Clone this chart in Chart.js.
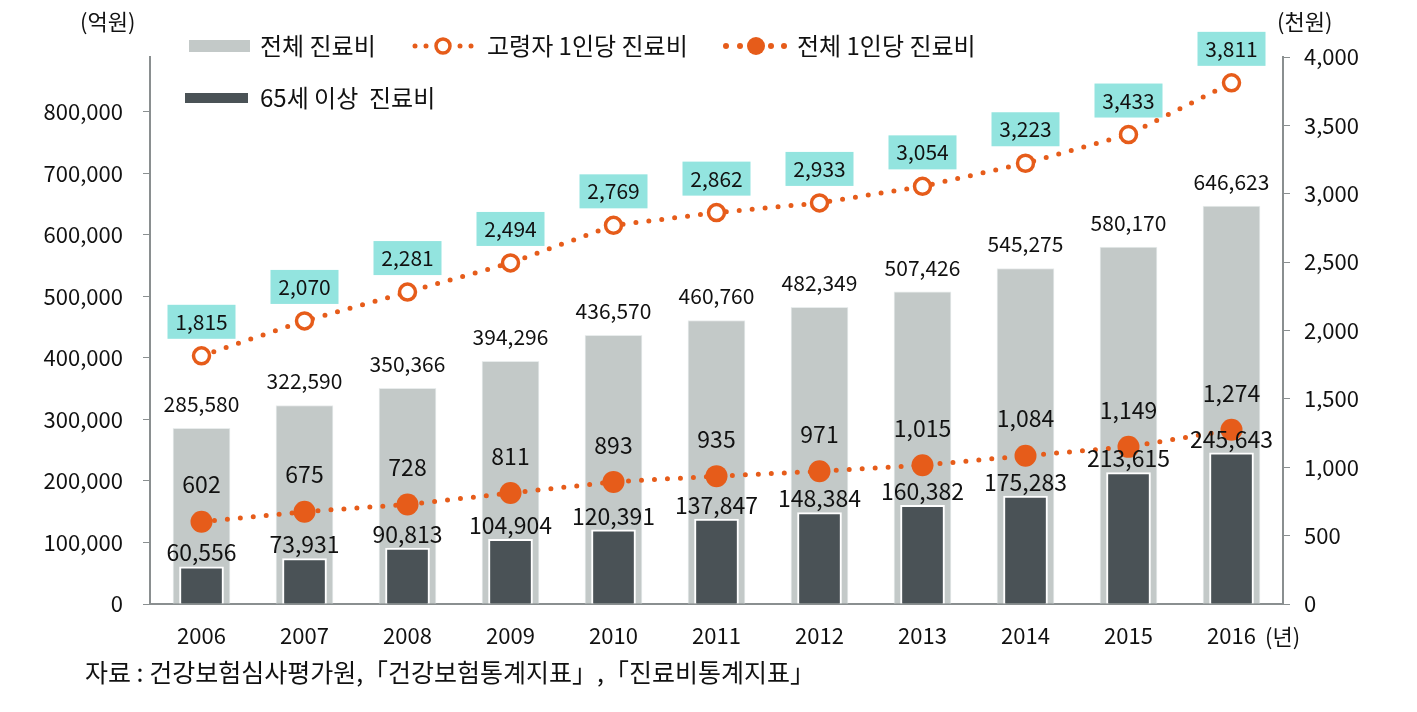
<!DOCTYPE html>
<html>
<head>
<meta charset="utf-8">
<script src="https://cdn.jsdelivr.net/npm/chart.js@4"></script>
<style>
  html, body { margin: 0; padding: 0; background: #fff; }
  canvas { display: block; }
</style>
</head>
<body>
<canvas id="costChart" width="1417" height="712"></canvas>
<script>
const years = ['2006', '2007', '2008', '2009', '2010', '2011', '2012', '2013', '2014', '2015', '2016'];
const totalCost = [285580, 322590, 350366, 394296, 436570, 460760, 482349, 507426, 545275, 580170, 646623];
const elderlyCost = [60556, 73931, 90813, 104904, 120391, 137847, 148384, 160382, 175283, 213615, 245643];
const elderlyPerCapita = [1815, 2070, 2281, 2494, 2769, 2862, 2933, 3054, 3223, 3433, 3811];
const totalPerCapita = [602, 675, 728, 811, 893, 935, 971, 1015, 1084, 1149, 1274];
const leftTicks = [0, 100000, 200000, 300000, 400000, 500000, 600000, 700000, 800000];
const rightTicks = [0, 500, 1000, 1500, 2000, 2500, 3000, 3500, 4000];

const FONT = '"Noto Sans CJK KR", "Noto Sans", sans-serif';
const ORANGE = '#e65c1a';
const fmt = v => v.toLocaleString('en-US');

// data labels, legend and captions
const extras = {
    id: 'extras',
    afterDatasetsDraw(chart) {
        const c = chart.ctx;
        c.save();
        c.textAlign = 'center';
        c.textBaseline = 'middle';
        c.fillStyle = '#111';

        chart.getDatasetMeta(0).data.forEach((bar, i) => {
            c.font = '21px ' + FONT;
            c.fillText(fmt(totalCost[i]), bar.x, bar.y - 24);
        });
        chart.getDatasetMeta(1).data.forEach((bar, i) => {
            c.font = '23px ' + FONT;
            c.fillText(fmt(elderlyCost[i]), bar.x, bar.y - 14);
        });
        chart.getDatasetMeta(3).data.forEach((pt, i) => {
            c.font = '23px ' + FONT;
            c.fillText(fmt(totalPerCapita[i]), pt.x, pt.y - 37);
        });
        chart.getDatasetMeta(2).data.forEach((pt, i) => {
            c.fillStyle = '#93e4df';
            c.fillRect(pt.x - 34, pt.y - 51, 68, 34);
            c.fillStyle = '#111';
            c.font = '21px ' + FONT;
            c.fillText(fmt(elderlyPerCapita[i]), pt.x, pt.y - 34);
        });

        // legend
        c.textAlign = 'left';
        c.font = '24px ' + FONT;
        c.fillStyle = '#c3c9c8';
        c.fillRect(189, 40, 61, 12);
        c.fillStyle = '#4a5256';
        c.fillRect(185, 93, 63, 10);
        c.fillStyle = '#111';
        c.fillText('전체 진료비', 260, 46);
        c.fillText('65세 이상  진료비', 260, 98);
        c.fillText('고령자 1인당 진료비', 487, 46);
        c.fillText('전체 1인당 진료비', 797, 46);

        c.fillStyle = ORANGE;
        [415, 426, 460, 471].forEach(x => { c.beginPath(); c.arc(x, 46, 2.5, 0, Math.PI * 2); c.fill(); });
        c.beginPath(); c.arc(443, 46, 7, 0, Math.PI * 2);
        c.fillStyle = '#fff'; c.fill();
        c.lineWidth = 3.5; c.strokeStyle = ORANGE; c.stroke();
        c.fillStyle = ORANGE;
        [726, 740, 771, 784].forEach(x => { c.beginPath(); c.arc(x, 46, 3, 0, Math.PI * 2); c.fill(); });
        c.beginPath(); c.arc(756, 46, 9, 0, Math.PI * 2); c.fill();

        // axis units and source
        c.fillStyle = '#111';
        c.font = '22px ' + FONT;
        c.fillText('(억원)', 80, 22);
        c.fillText('(천원)', 1277, 22);
        c.fillText('(년)', 1265, 637);
        c.font = '25px ' + FONT;
        c.fillText('자료 : 건강보험심사평가원,「건강보험통계지표」,「진료비통계지표」', 85, 672);
        c.restore();
    }
};

const ctx = document.getElementById('costChart').getContext('2d');
const costChart = new Chart(ctx, {
    data: {
        labels: years,
        datasets: [{
            type: 'bar',
            label: '전체 진료비',
            data: totalCost,
            yAxisID: 'yLeft',
            backgroundColor: '#c3c9c8',
            borderColor: '#e8ecec',
            borderWidth: 1,
            barThickness: 57,
            grouped: false,
            order: 3
        }, {
            type: 'bar',
            label: '65세 이상 진료비',
            data: elderlyCost,
            yAxisID: 'yLeft',
            backgroundColor: '#4a5256',
            borderColor: '#ffffff',
            borderWidth: 2,
            barThickness: 44,
            grouped: false,
            order: 2
        }, {
            type: 'line',
            label: '고령자 1인당 진료비',
            data: elderlyPerCapita,
            yAxisID: 'yRight',
            borderColor: ORANGE,
            borderWidth: 5,
            borderDash: [0, 13],
            borderCapStyle: 'round',
            pointRadius: 8,
            pointBorderWidth: 3.5,
            pointBackgroundColor: '#fff',
            pointBorderColor: ORANGE,
            order: 0
        }, {
            type: 'line',
            label: '전체 1인당 진료비',
            data: totalPerCapita,
            yAxisID: 'yRight',
            borderColor: ORANGE,
            borderWidth: 5,
            borderDash: [0, 13],
            borderCapStyle: 'round',
            pointRadius: 11,
            pointBorderWidth: 0,
            pointBackgroundColor: ORANGE,
            order: 1
        }]
    },
    options: {
        responsive: false,
        animation: false,
        layout: { padding: { top: 57, bottom: 58, left: 0, right: 0 } },
        plugins: {
            legend: { display: false },
            tooltip: { enabled: false }
        },
        scales: {
            x: {
                offset: true,
                grid: { display: false },
                border: { color: '#8a8f90', width: 2 },
                ticks: { color: '#111', font: { family: FONT, size: 22 }, padding: 10 },
                afterFit: s => { s.height = 50; }
            },
            yLeft: {
                position: 'left',
                min: 0,
                max: 889000,
                afterBuildTicks: s => { s.ticks = leftTicks.map(v => ({ value: v })); },
                grid: { drawOnChartArea: false, tickLength: 7, color: '#8a8f90' },
                border: { color: '#8a8f90', width: 2 },
                ticks: { color: '#111', font: { family: FONT, size: 22 }, padding: 20, callback: v => fmt(v) },
                afterFit: s => { s.width = 150; }
            },
            yRight: {
                position: 'right',
                min: 0,
                max: 4000,
                afterBuildTicks: s => { s.ticks = rightTicks.map(v => ({ value: v })); },
                grid: { drawOnChartArea: false, tickLength: 7, color: '#8a8f90' },
                border: { color: '#8a8f90', width: 2 },
                ticks: { color: '#111', font: { family: FONT, size: 22 }, padding: 14, callback: v => fmt(v) },
                afterFit: s => { s.width = 134; }
            }
        }
    },
    plugins: [extras]
});
</script>
</body>
</html>
